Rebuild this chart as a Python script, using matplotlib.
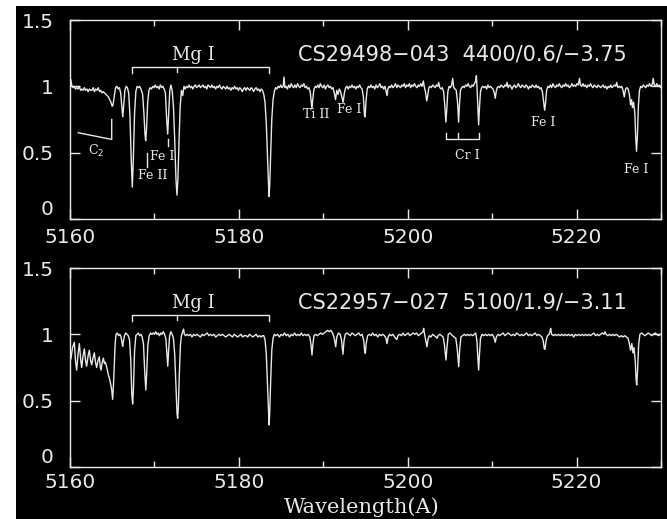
import matplotlib.pyplot as plt
from matplotlib.patches import Rectangle
from matplotlib.ticker import MultipleLocator

# (wavelength, normalised flux)
spec_top = [
    (5160.00, 1.00), (5160.10, 1.05), (5160.20, 1.01), (5160.35, 0.99), (5160.50, 1.00), (5160.65, 0.98),
    (5160.80, 0.99), (5160.95, 0.98), (5161.10, 1.00), (5161.25, 0.97), (5161.40, 0.98), (5161.55, 0.97),
    (5161.70, 0.99), (5161.85, 0.97), (5162.00, 0.98), (5162.15, 0.96), (5162.30, 0.98), (5162.45, 0.97),
    (5162.60, 0.97), (5162.75, 0.99), (5162.90, 0.96), (5163.05, 0.98), (5163.20, 0.97), (5163.35, 0.99),
    (5163.50, 0.96), (5163.65, 0.97), (5163.80, 0.95), (5163.95, 0.96), (5164.10, 0.95), (5164.25, 0.94),
    (5164.40, 0.93), (5164.55, 0.92), (5164.70, 0.90), (5164.85, 0.88), (5165.00, 0.85), (5165.10, 0.86),
    (5165.25, 0.93), (5165.40, 0.99), (5165.55, 1.00), (5165.70, 0.98), (5165.85, 0.99), (5166.00, 0.95),
    (5166.15, 0.84), (5166.25, 0.77), (5166.35, 0.85), (5166.50, 0.97), (5166.65, 1.00), (5166.80, 0.99),
    (5166.95, 0.95), (5167.10, 0.78), (5167.25, 0.45), (5167.38, 0.24), (5167.50, 0.45), (5167.65, 0.80),
    (5167.80, 0.96), (5167.95, 1.00), (5168.10, 0.99), (5168.25, 1.00), (5168.40, 0.98), (5168.60, 0.94),
    (5168.75, 0.80), (5168.88, 0.64), (5168.96, 0.59), (5169.05, 0.66), (5169.20, 0.88), (5169.35, 0.97),
    (5169.50, 0.99), (5169.65, 0.98), (5169.80, 1.00), (5169.95, 0.99), (5170.10, 1.01), (5170.25, 0.99),
    (5170.40, 1.00), (5170.55, 0.98), (5170.70, 1.01), (5170.85, 0.99), (5171.00, 1.00), (5171.15, 0.98),
    (5171.30, 0.95), (5171.45, 0.75), (5171.57, 0.64), (5171.68, 0.78), (5171.82, 0.97), (5171.95, 1.01),
    (5172.10, 0.97), (5172.25, 0.85), (5172.40, 0.60), (5172.55, 0.30), (5172.67, 0.18), (5172.78, 0.30),
    (5172.92, 0.60), (5173.05, 0.85), (5173.20, 0.97), (5173.35, 0.93), (5173.50, 1.00), (5173.65, 0.98),
    (5173.80, 1.00), (5173.95, 0.99), (5174.10, 1.01), (5174.25, 0.99), (5174.40, 1.00), (5174.55, 0.98),
    (5174.70, 1.00), (5174.85, 1.01), (5175.00, 0.99), (5175.15, 1.00), (5175.30, 1.01), (5175.45, 0.99),
    (5175.60, 1.00), (5175.75, 1.01), (5175.90, 0.99), (5176.05, 1.00), (5176.20, 0.98), (5176.35, 1.01),
    (5176.50, 1.00), (5176.65, 0.99), (5176.80, 1.01), (5176.95, 0.99), (5177.10, 1.00), (5177.25, 0.98),
    (5177.40, 1.00), (5177.55, 0.99), (5177.70, 1.01), (5177.85, 0.99), (5178.00, 0.98), (5178.15, 1.00),
    (5178.30, 0.99), (5178.45, 0.98), (5178.60, 1.00), (5178.75, 0.98), (5178.90, 0.99), (5179.05, 0.97),
    (5179.20, 0.99), (5179.35, 0.98), (5179.50, 1.00), (5179.65, 0.98), (5179.80, 0.99), (5179.95, 0.97),
    (5180.10, 0.99), (5180.25, 0.98), (5180.40, 0.96), (5180.55, 0.98), (5180.70, 0.99), (5180.85, 0.97),
    (5181.00, 0.99), (5181.15, 0.98), (5181.30, 0.97), (5181.45, 0.99), (5181.60, 0.98), (5181.75, 0.96),
    (5181.90, 0.98), (5182.05, 0.99), (5182.20, 0.97), (5182.35, 0.98), (5182.50, 0.96), (5182.65, 0.98),
    (5182.80, 0.97), (5182.95, 0.94), (5183.10, 0.88), (5183.25, 0.72), (5183.40, 0.45), (5183.52, 0.25),
    (5183.58, 0.17), (5183.65, 0.25), (5183.77, 0.48), (5183.90, 0.75), (5184.05, 0.90), (5184.20, 0.96),
    (5184.35, 0.99), (5184.50, 0.98), (5184.65, 1.00), (5184.80, 0.99), (5184.95, 1.01), (5185.10, 0.99),
    (5185.25, 1.00), (5185.35, 1.07), (5185.45, 0.99), (5185.60, 1.00), (5185.75, 0.98), (5185.90, 1.01),
    (5186.05, 0.99), (5186.20, 1.02), (5186.35, 1.00), (5186.50, 0.99), (5186.65, 1.01), (5186.80, 0.99),
    (5186.95, 1.02), (5187.10, 1.00), (5187.25, 0.99), (5187.40, 1.01), (5187.55, 1.00), (5187.70, 1.02),
    (5187.85, 0.99), (5188.00, 1.00), (5188.15, 0.98), (5188.30, 0.99), (5188.45, 0.96), (5188.58, 0.88),
    (5188.66, 0.83), (5188.75, 0.90), (5188.90, 0.98), (5189.05, 1.00), (5189.20, 0.99), (5189.35, 1.01),
    (5189.50, 0.99), (5189.65, 1.02), (5189.80, 1.00), (5189.95, 0.99), (5190.10, 1.01), (5190.25, 0.98),
    (5190.40, 1.00), (5190.55, 1.01), (5190.70, 0.99), (5190.85, 1.00), (5191.00, 0.98), (5191.15, 0.99),
    (5191.30, 0.95), (5191.45, 0.90), (5191.60, 0.97), (5191.75, 0.94), (5191.90, 0.98), (5192.05, 0.96),
    (5192.20, 0.92), (5192.35, 0.88), (5192.50, 0.95), (5192.65, 0.99), (5192.80, 1.00), (5192.95, 0.98),
    (5193.10, 1.00), (5193.25, 0.99), (5193.40, 1.01), (5193.55, 0.99), (5193.70, 1.00), (5193.85, 0.98),
    (5194.00, 1.00), (5194.15, 0.99), (5194.30, 1.01), (5194.45, 0.99), (5194.60, 0.98), (5194.75, 0.92),
    (5194.88, 0.78), (5194.96, 0.77), (5195.05, 0.88), (5195.20, 0.98), (5195.35, 1.00), (5195.50, 0.99),
    (5195.65, 1.01), (5195.80, 0.99), (5195.95, 1.00), (5196.10, 0.98), (5196.25, 1.01), (5196.40, 0.99),
    (5196.55, 1.00), (5196.70, 1.02), (5196.85, 0.99), (5197.00, 1.00), (5197.15, 0.98), (5197.30, 1.00),
    (5197.45, 0.96), (5197.55, 0.93), (5197.65, 0.98), (5197.80, 1.00), (5197.95, 0.99), (5198.10, 1.01),
    (5198.25, 0.99), (5198.40, 1.00), (5198.55, 1.02), (5198.70, 0.99), (5198.85, 1.01), (5199.00, 1.00),
    (5199.15, 0.99), (5199.30, 1.01), (5199.45, 1.00), (5199.60, 1.02), (5199.75, 0.99), (5199.90, 1.01),
    (5200.05, 1.00), (5200.20, 1.02), (5200.35, 0.99), (5200.50, 1.01), (5200.65, 1.00), (5200.80, 1.02),
    (5200.95, 1.00), (5201.10, 0.99), (5201.25, 1.01), (5201.40, 1.00), (5201.55, 1.02), (5201.70, 1.00),
    (5201.85, 1.04), (5201.95, 1.00), (5202.10, 0.96), (5202.25, 0.89), (5202.35, 0.92), (5202.50, 0.99),
    (5202.65, 1.00), (5202.80, 0.99), (5202.95, 1.01), (5203.10, 1.00), (5203.25, 0.99), (5203.40, 1.01),
    (5203.55, 1.00), (5203.67, 1.03), (5203.80, 0.99), (5203.95, 0.98), (5204.10, 0.99), (5204.25, 0.96),
    (5204.40, 0.85), (5204.52, 0.73), (5204.62, 0.82), (5204.75, 0.96), (5204.90, 1.00), (5205.05, 0.99),
    (5205.20, 1.01), (5205.33, 1.06), (5205.45, 0.99), (5205.60, 0.98), (5205.75, 0.97), (5205.90, 0.88),
    (5206.03, 0.73), (5206.12, 0.85), (5206.25, 0.97), (5206.40, 0.99), (5206.55, 1.00), (5206.70, 0.99),
    (5206.85, 1.01), (5207.00, 1.00), (5207.15, 1.02), (5207.30, 1.00), (5207.45, 0.99), (5207.60, 1.01),
    (5207.75, 1.00), (5207.90, 1.02), (5208.05, 1.04), (5208.13, 1.08), (5208.20, 1.00), (5208.30, 0.85),
    (5208.40, 0.71), (5208.50, 0.84), (5208.62, 0.96), (5208.75, 0.99), (5208.90, 1.00), (5209.05, 0.99),
    (5209.20, 1.00), (5209.35, 0.98), (5209.50, 1.01), (5209.65, 0.99), (5209.80, 1.00), (5209.95, 0.99),
    (5210.10, 0.98), (5210.25, 0.95), (5210.37, 0.91), (5210.48, 0.96), (5210.60, 0.99), (5210.75, 1.00),
    (5210.90, 0.99), (5211.05, 1.01), (5211.20, 1.00), (5211.35, 0.99), (5211.50, 1.01), (5211.65, 1.00),
    (5211.76, 1.03), (5211.90, 0.99), (5212.05, 1.01), (5212.20, 1.00), (5212.35, 0.98), (5212.50, 1.00),
    (5212.65, 1.01), (5212.80, 0.99), (5212.95, 1.00), (5213.10, 1.02), (5213.25, 1.00), (5213.40, 0.99),
    (5213.55, 1.01), (5213.70, 1.00), (5213.85, 0.99), (5214.00, 1.01), (5214.15, 1.00), (5214.30, 0.98),
    (5214.45, 1.00), (5214.60, 0.99), (5214.75, 1.01), (5214.90, 1.00), (5215.05, 0.99), (5215.20, 1.01),
    (5215.35, 0.99), (5215.50, 1.00), (5215.65, 0.98), (5215.80, 0.99), (5215.95, 0.96), (5216.10, 0.88),
    (5216.22, 0.82), (5216.32, 0.87), (5216.45, 0.97), (5216.60, 1.00), (5216.75, 0.99), (5216.90, 1.01),
    (5217.05, 0.99), (5217.20, 1.02), (5217.35, 1.00), (5217.50, 0.99), (5217.65, 1.01), (5217.80, 1.00),
    (5217.95, 1.02), (5218.10, 1.00), (5218.25, 0.99), (5218.40, 1.01), (5218.55, 1.00), (5218.70, 1.02),
    (5218.85, 1.00), (5219.00, 1.01), (5219.15, 0.99), (5219.30, 1.00), (5219.45, 1.02), (5219.60, 1.00),
    (5219.75, 1.01), (5219.90, 1.00), (5220.05, 1.02), (5220.20, 1.01), (5220.35, 1.06), (5220.45, 1.01),
    (5220.60, 1.00), (5220.75, 1.02), (5220.90, 1.00), (5221.05, 1.01), (5221.20, 0.99), (5221.35, 1.01),
    (5221.50, 1.00), (5221.65, 1.02), (5221.80, 1.00), (5221.95, 0.99), (5222.10, 1.01), (5222.25, 1.00),
    (5222.40, 0.99), (5222.55, 1.01), (5222.70, 1.00), (5222.85, 0.99), (5223.00, 1.00), (5223.15, 1.01),
    (5223.30, 0.99), (5223.45, 1.00), (5223.60, 0.98), (5223.75, 1.00), (5223.90, 0.99), (5224.05, 1.01),
    (5224.20, 0.99), (5224.35, 1.00), (5224.50, 1.01), (5224.65, 1.00), (5224.75, 1.03), (5224.90, 0.99),
    (5225.05, 1.00), (5225.20, 0.99), (5225.35, 1.00), (5225.50, 0.97), (5225.65, 0.92), (5225.80, 0.98),
    (5225.95, 0.99), (5226.10, 0.98), (5226.25, 0.94), (5226.40, 0.86), (5226.52, 0.90), (5226.62, 0.84),
    (5226.75, 0.88), (5226.90, 0.80), (5227.00, 0.62), (5227.10, 0.51), (5227.20, 0.62), (5227.32, 0.85),
    (5227.45, 0.97), (5227.60, 1.00), (5227.75, 0.99), (5227.90, 1.01), (5228.05, 1.00), (5228.20, 0.99),
    (5228.35, 1.01), (5228.50, 1.00), (5228.65, 1.02), (5228.80, 1.00), (5228.95, 1.01), (5229.08, 1.06),
    (5229.20, 1.01), (5229.35, 1.00), (5229.50, 1.02), (5229.65, 1.00), (5229.80, 1.01), (5229.95, 0.99),
    (5230.00, 1.00),
]

spec_bot = [
    (5160.00, 0.80), (5160.12, 0.82), (5160.30, 0.90), (5160.51, 0.94), (5160.65, 0.80), (5160.79, 0.73),
    (5160.95, 0.85), (5161.11, 0.93), (5161.25, 0.82), (5161.38, 0.75), (5161.55, 0.84), (5161.70, 0.89),
    (5161.85, 0.80), (5161.97, 0.76), (5162.15, 0.84), (5162.29, 0.88), (5162.45, 0.80), (5162.57, 0.77),
    (5162.72, 0.82), (5162.88, 0.86), (5163.02, 0.79), (5163.16, 0.75), (5163.30, 0.80), (5163.47, 0.83),
    (5163.57, 0.76), (5163.67, 0.73), (5163.82, 0.79), (5163.95, 0.82), (5164.08, 0.78), (5164.18, 0.79),
    (5164.32, 0.76), (5164.46, 0.72), (5164.56, 0.69), (5164.66, 0.67), (5164.80, 0.63), (5164.94, 0.58),
    (5165.05, 0.51), (5165.15, 0.62), (5165.25, 0.78), (5165.35, 0.93), (5165.45, 1.00), (5165.60, 1.01),
    (5165.75, 0.99), (5165.90, 1.00), (5166.05, 0.98), (5166.15, 0.94), (5166.24, 0.91), (5166.33, 0.95),
    (5166.45, 0.99), (5166.60, 1.01), (5166.75, 1.00), (5166.90, 0.99), (5167.05, 0.96), (5167.20, 0.80),
    (5167.32, 0.55), (5167.42, 0.475), (5167.52, 0.60), (5167.65, 0.88), (5167.80, 0.99), (5167.95, 1.00),
    (5168.10, 1.01), (5168.25, 0.99), (5168.40, 1.00), (5168.55, 0.98), (5168.70, 0.93), (5168.85, 0.72),
    (5168.98, 0.58), (5169.08, 0.70), (5169.22, 0.92), (5169.38, 0.99), (5169.55, 1.01), (5169.70, 1.00),
    (5169.85, 1.01), (5170.00, 1.00), (5170.15, 1.02), (5170.30, 1.00), (5170.45, 1.01), (5170.60, 0.99),
    (5170.75, 1.01), (5170.90, 1.00), (5171.05, 1.02), (5171.20, 1.00), (5171.35, 0.97), (5171.48, 0.85),
    (5171.58, 0.76), (5171.68, 0.88), (5171.80, 0.99), (5171.95, 1.02), (5172.10, 1.00), (5172.25, 0.97),
    (5172.40, 0.85), (5172.55, 0.60), (5172.68, 0.40), (5172.75, 0.367), (5172.83, 0.45), (5172.95, 0.70),
    (5173.08, 0.92), (5173.20, 0.99), (5173.35, 1.02), (5173.45, 1.04), (5173.55, 1.00), (5173.70, 0.99),
    (5173.85, 1.00), (5174.05, 0.99), (5174.25, 1.00), (5174.45, 0.98), (5174.65, 1.00), (5174.85, 0.99),
    (5175.05, 1.00), (5175.25, 0.99), (5175.45, 0.98), (5175.65, 1.00), (5175.85, 0.99), (5176.05, 1.00),
    (5176.25, 1.01), (5176.45, 0.99), (5176.65, 1.00), (5176.85, 0.99), (5177.05, 1.00), (5177.25, 0.98),
    (5177.45, 0.99), (5177.65, 1.00), (5177.85, 0.99), (5178.05, 1.00), (5178.25, 0.99), (5178.45, 0.98),
    (5178.65, 0.99), (5178.85, 1.00), (5179.05, 0.99), (5179.25, 0.98), (5179.45, 1.00), (5179.65, 0.99),
    (5179.85, 0.98), (5180.05, 0.99), (5180.25, 1.00), (5180.45, 0.98), (5180.65, 0.99), (5180.85, 0.99),
    (5181.05, 0.98), (5181.25, 1.00), (5181.45, 0.99), (5181.65, 0.98), (5181.85, 0.99), (5182.05, 1.00),
    (5182.25, 0.98), (5182.45, 0.99), (5182.65, 0.98), (5182.80, 0.99), (5182.95, 0.99), (5183.10, 0.96),
    (5183.25, 0.85), (5183.40, 0.60), (5183.52, 0.38), (5183.58, 0.317), (5183.65, 0.40), (5183.77, 0.65),
    (5183.90, 0.88), (5184.05, 0.97), (5184.20, 1.00), (5184.40, 0.99), (5184.60, 1.00), (5184.80, 0.98),
    (5185.00, 1.00), (5185.20, 0.99), (5185.40, 1.01), (5185.60, 0.99), (5185.80, 1.00), (5186.00, 0.98),
    (5186.20, 1.00), (5186.40, 0.99), (5186.60, 1.01), (5186.80, 0.99), (5187.00, 1.00), (5187.20, 0.99),
    (5187.40, 1.01), (5187.60, 0.99), (5187.80, 1.00), (5188.00, 0.99), (5188.20, 1.00), (5188.40, 0.98),
    (5188.55, 0.92), (5188.66, 0.844), (5188.76, 0.92), (5188.90, 0.99), (5189.10, 1.00), (5189.30, 0.99),
    (5189.50, 1.00), (5189.70, 1.01), (5189.90, 1.00), (5190.10, 1.01), (5190.30, 1.02), (5190.50, 1.03),
    (5190.70, 1.02), (5190.90, 1.03), (5191.10, 1.01), (5191.30, 0.97), (5191.47, 0.907), (5191.60, 0.98),
    (5191.80, 1.01), (5192.00, 1.00), (5192.15, 0.96), (5192.33, 0.85), (5192.45, 0.95), (5192.60, 1.00),
    (5192.80, 1.01), (5193.00, 1.00), (5193.20, 0.99), (5193.40, 1.01), (5193.60, 1.00), (5193.80, 0.99),
    (5194.00, 1.00), (5194.20, 1.01), (5194.40, 0.99), (5194.60, 1.00), (5194.80, 0.95), (5194.90, 0.87),
    (5194.98, 0.857), (5195.08, 0.93), (5195.25, 0.99), (5195.45, 1.00), (5195.65, 0.99), (5195.85, 1.01),
    (5196.05, 0.99), (5196.25, 1.00), (5196.45, 0.98), (5196.65, 1.00), (5196.85, 0.99), (5197.05, 1.00),
    (5197.25, 0.99), (5197.42, 0.97), (5197.55, 0.93), (5197.68, 0.98), (5197.85, 1.00), (5198.05, 0.99),
    (5198.25, 1.00), (5198.45, 0.98), (5198.70, 0.96), (5198.85, 0.99), (5199.05, 1.00), (5199.25, 0.99),
    (5199.45, 1.01), (5199.65, 0.99), (5199.85, 1.00), (5200.05, 1.01), (5200.25, 0.99), (5200.45, 1.00),
    (5200.65, 1.01), (5200.85, 1.00), (5201.05, 1.01), (5201.25, 0.99), (5201.45, 1.00), (5201.65, 1.01),
    (5201.80, 1.02), (5201.89, 1.045), (5202.00, 1.00), (5202.15, 0.95), (5202.28, 0.906), (5202.40, 0.96),
    (5202.55, 0.99), (5202.75, 0.98), (5202.95, 1.00), (5203.15, 0.99), (5203.35, 0.98), (5203.47, 0.97),
    (5203.60, 0.99), (5203.80, 1.00), (5204.00, 0.99), (5204.20, 0.98), (5204.35, 0.92), (5204.53, 0.806),
    (5204.65, 0.90), (5204.80, 1.00), (5205.00, 1.01), (5205.15, 1.00), (5205.30, 0.99), (5205.50, 0.98),
    (5205.70, 0.97), (5205.88, 0.88), (5206.04, 0.756), (5206.15, 0.88), (5206.30, 0.98), (5206.50, 0.99),
    (5206.70, 1.00), (5206.90, 0.99), (5207.10, 1.00), (5207.30, 0.99), (5207.50, 1.00), (5207.70, 0.99),
    (5207.90, 1.00), (5208.05, 1.01), (5208.20, 0.95), (5208.30, 0.83), (5208.40, 0.73), (5208.50, 0.85),
    (5208.62, 0.97), (5208.80, 1.00), (5209.00, 0.99), (5209.20, 1.00), (5209.40, 0.99), (5209.60, 1.00),
    (5209.80, 0.99), (5210.00, 1.00), (5210.20, 0.98), (5210.37, 0.94), (5210.50, 0.98), (5210.70, 1.00),
    (5210.90, 0.99), (5211.10, 1.00), (5211.30, 1.01), (5211.50, 0.99), (5211.70, 1.00), (5211.90, 1.01),
    (5212.10, 1.00), (5212.30, 0.99), (5212.50, 1.00), (5212.70, 0.99), (5212.90, 1.01), (5213.10, 1.00),
    (5213.30, 0.99), (5213.50, 1.00), (5213.70, 0.99), (5213.90, 1.00), (5214.10, 1.01), (5214.30, 0.99),
    (5214.50, 1.00), (5214.70, 0.99), (5214.90, 1.00), (5215.10, 1.01), (5215.30, 0.99), (5215.50, 1.00),
    (5215.70, 0.99), (5215.90, 0.98), (5216.05, 0.95), (5216.18, 0.89), (5216.26, 0.887), (5216.38, 0.95),
    (5216.55, 0.99), (5216.75, 1.00), (5216.85, 1.02), (5216.93, 1.045), (5217.05, 1.00), (5217.25, 0.99),
    (5217.45, 1.00), (5217.65, 0.99), (5217.85, 1.00), (5218.05, 0.99), (5218.25, 1.00), (5218.45, 0.99),
    (5218.65, 1.00), (5218.85, 0.99), (5219.05, 1.00), (5219.25, 0.99), (5219.45, 1.00), (5219.65, 0.98),
    (5219.85, 1.00), (5220.05, 0.99), (5220.25, 1.00), (5220.45, 0.99), (5220.65, 1.00), (5220.85, 0.99),
    (5221.05, 1.00), (5221.25, 0.99), (5221.45, 1.00), (5221.65, 0.99), (5221.85, 1.00), (5222.05, 1.01),
    (5222.25, 0.99), (5222.45, 1.00), (5222.65, 0.99), (5222.85, 1.00), (5223.05, 1.01), (5223.25, 1.00),
    (5223.37, 1.02), (5223.50, 1.00), (5223.70, 0.99), (5223.90, 1.00), (5224.10, 0.99), (5224.30, 1.00),
    (5224.50, 0.99), (5224.70, 1.00), (5224.90, 0.99), (5225.10, 0.98), (5225.30, 0.99), (5225.50, 0.98),
    (5225.70, 0.99), (5225.90, 0.98), (5226.10, 0.97), (5226.25, 0.93), (5226.40, 0.88), (5226.55, 0.93),
    (5226.68, 0.86), (5226.80, 0.90), (5226.95, 0.80), (5227.05, 0.66), (5227.12, 0.618), (5227.22, 0.72),
    (5227.35, 0.92), (5227.50, 1.00), (5227.70, 1.01), (5227.90, 1.00), (5228.10, 0.99), (5228.30, 1.00),
    (5228.50, 1.01), (5228.70, 1.00), (5228.90, 0.99), (5229.10, 1.00), (5229.30, 1.01), (5229.50, 1.00),
    (5229.70, 0.99), (5229.90, 1.00), (5230.00, 1.00),
]

star_names = ["CS29498\u2212043  4400/0.6/\u22123.75", "CS22957\u2212027  5100/1.9/\u22123.11"]

# line identifications in the upper panel: text, wavelength, flux
top_labels = [
    ("C$_2$", 5163.08, 0.51),
    ("Fe II", 5169.83, 0.325),
    ("Fe I", 5170.86, 0.47),
    ("Ti II", 5189.12, 0.784),
    ("Fe I", 5193.05, 0.829),
    ("Cr I", 5207.08, 0.475),
    ("Fe I", 5216.06, 0.725),
    ("Fe I", 5227.08, 0.373),
]
mg_lines = [5167.38, 5172.67, 5183.60]
cr_lines = [5204.50, 5206.00, 5208.44]

fg = '#e8e8e8'
W, H = 667, 519

fig = plt.figure(figsize=(W / 100, H / 100), dpi=100)
fig.patch.set_facecolor('white')
fig.add_artist(Rectangle((16 / W, 0), 1, 1 - 6 / H, transform=fig.transFigure,
                         facecolor='black', edgecolor='none', zorder=-10))

ax_top = fig.add_axes([70 / W, 1 - 219 / H, 591 / W, 199 / H])
ax_bot = fig.add_axes([70 / W, 1 - 467 / H, 591 / W, 199 / H])

for ax, spec, name, xpad in [(ax_top, spec_top, star_names[0], 6.5),
                              (ax_bot, spec_bot, star_names[1], 4)]:
    wave = [p[0] for p in spec]
    flux = [p[1] for p in spec]
    ax.set_facecolor('black')
    ax.plot(wave, flux, color=fg, lw=1.0)
    ax.set_xlim(5160, 5230)
    ax.set_ylim(0, 1.5)
    ax.xaxis.set_major_locator(MultipleLocator(20))
    ax.xaxis.set_minor_locator(MultipleLocator(10))
    ax.set_yticks([0, 0.5, 1, 1.5])
    ax.set_yticklabels(['0', '0.5', '1', '1.5'])
    for s in ax.spines.values():
        s.set_color(fg)
        s.set_linewidth(1.0)
    ax.tick_params(which='both', direction='in', top=True, right=True,
                   color=fg, labelcolor=fg, width=1.0, labelsize=14.5)
    ax.tick_params(which='major', length=7.5)
    ax.tick_params(which='minor', length=4.3)
    ax.tick_params(axis='y', pad=12)
    ax.tick_params(axis='x', pad=xpad)
    # lift the "0" a little so it clears the first wavelength label
    ax.get_yticklabels()[0].set_va('bottom')

    # Mg I triplet bracket
    ax.plot([mg_lines[0], mg_lines[0], mg_lines[2], mg_lines[2]], [1.10, 1.147, 1.147, 1.10],
            color=fg, lw=1.0)
    ax.plot([mg_lines[1], mg_lines[1]], [1.147, 1.105], color=fg, lw=1.0)
    ax.text(5174.6, 1.235, "Mg I", color=fg, fontsize=13, family='DejaVu Serif',
            ha='center', va='center')
    ax.text(5225.93, 1.24, name, color=fg, fontsize=15, ha='right', va='center')

# C2 band head marker
ax_top.plot([5160.98, 5164.94, 5164.94], [0.65, 0.60, 0.75], color=fg, lw=1.0)
# Cr I bracket
ax_top.plot([cr_lines[0], cr_lines[0], cr_lines[2], cr_lines[2]], [0.645, 0.60, 0.60, 0.645],
            color=fg, lw=1.0)
ax_top.plot([cr_lines[1], cr_lines[1]], [0.60, 0.645], color=fg, lw=1.0)
# small marks for Fe II and Fe I near 5170
ax_top.plot([5169.08, 5169.08], [0.395, 0.495], color=fg, lw=1.0)
ax_top.plot([5171.57, 5171.57], [0.55, 0.60], color=fg, lw=1.0)

for txt, x, y in top_labels:
    ax_top.text(x, y, txt, color=fg, fontsize=9, family='DejaVu Serif',
                ha='center', va='center')

fig.text(362 / W, 1 - 507 / H, "Wavelength(A)", color=fg, fontsize=15,
         family='DejaVu Serif', ha='center', va='center')

fig.savefig('out.png', dpi=100, facecolor=fig.get_facecolor())
